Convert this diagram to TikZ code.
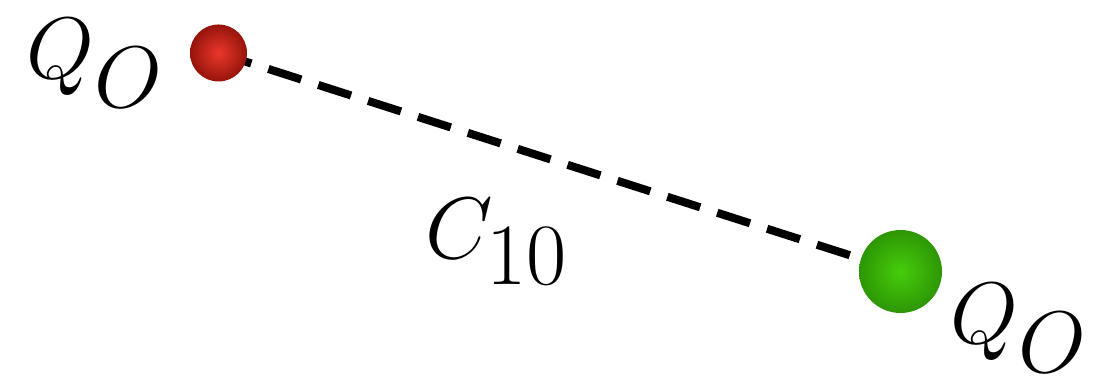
\documentclass[tikz,border=0pt]{standalone}
\usepackage{amsmath}
\usetikzlibrary{positioning}
\DeclareMathSizes{34}{34}{23}{17}
\definecolor{ballred}{RGB}{235,55,45}
\definecolor{ballredrim}{RGB}{150,20,10}
\definecolor{ballgreen}{RGB}{70,205,10}
\definecolor{ballgreenrim}{RGB}{45,150,5}
\pgfdeclarelayer{background}
\pgfsetlayers{background,main}

\begin{document}
\begin{tikzpicture}[x=1cm,y=1cm,
			every node/.style={font=\fontsize{34}{41}\selectfont,inner sep=0pt},
			quark/.style={circle,draw=none,inner sep=0pt},
			bond/.style={line width=2.3pt,dash pattern=on 9.8pt off 5.1pt}]
			\useasboundingbox (0,0) rectangle (10.97,3.79);
			\node[quark,minimum size=0.57cm,inner color=ballred,outer color=ballredrim] (qa) at (2.185,3.26) {};
			\node[quark,minimum size=0.83cm,inner color=ballgreen,outer color=ballgreenrim] (qb) at (9.005,1.075) {};
			% bond sits behind the balls
			\begin{pgfonlayer}{background}
			\draw[bond] (qa.center)--(qb.center);
			\end{pgfonlayer}
			\node (la) at (0.95,3.16) {$Q_O$};
			\node (lb) at (10.19,0.51) {$Q_O$};
			\node (bondlbl) at (4.97,1.37) {$C_{10}$};
		\end{tikzpicture}
\end{document}
